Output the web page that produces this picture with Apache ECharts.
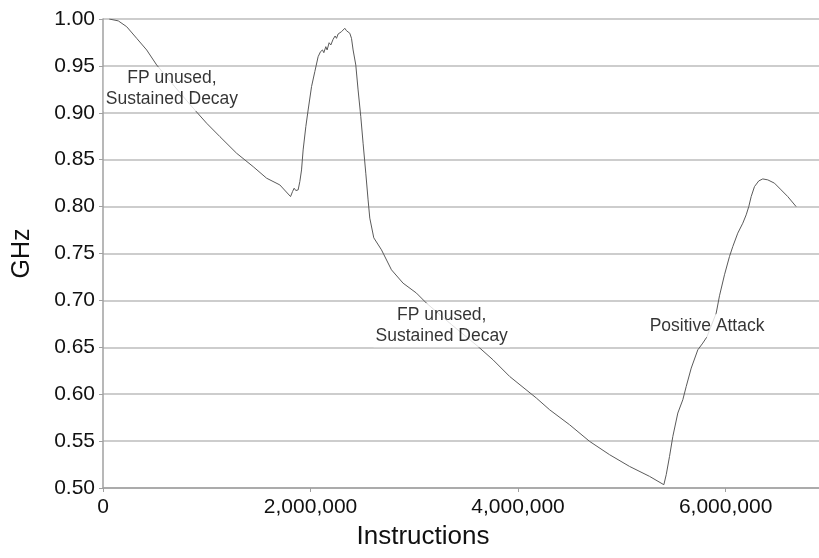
<!DOCTYPE html>
<html>
<head>
<meta charset="utf-8">
<script src="https://cdn.jsdelivr.net/npm/echarts@6/dist/echarts.min.js"></script>
<style>
  html, body { margin: 0; padding: 0; background: #fff; }
  #chart { width: 819px; height: 558px; }
</style>
</head>
<body>
<div id="chart"></div>
<script>
// Clock frequency (GHz) against retired instructions
const instructions = [
  60000, 147300, 228200, 324500, 420800, 517000, 693300, 869500, 998500, 1126600,
  1287400, 1447300, 1576300, 1704300, 1807400, 1826600, 1842000, 1858400, 1880500, 1896900,
  1913300, 1928700, 1954700, 1976800, 2009600, 2041300, 2073100, 2096200, 2115500, 2128000,
  2147300, 2159800, 2179100, 2195400, 2217600, 2236800, 2250300, 2265700, 2298400, 2330200,
  2346600, 2362000, 2378400, 2394700, 2410200, 2436100, 2458300, 2484300, 2506400, 2532400,
  2554600, 2571000, 2609500, 2683600, 2779900, 2891600, 3020600, 3116900, 3360500, 3613800,
  3758200, 3919000, 4176100, 4304200, 4496700, 4689300, 4881800, 5074400, 5267000, 5404700,
  5427800, 5459600, 5491400, 5539500, 5587700, 5620400, 5668600, 5732100, 5780300, 5818800,
  5909300, 5941100, 5989200, 6037400, 6069200, 6117300, 6165500, 6198200, 6223300, 6246400,
  6278200, 6319600, 6358100, 6406300, 6470700, 6535300, 6598800, 6679700
];
const ghz = [
  1.000, 0.998, 0.9918, 0.9794, 0.967, 0.951, 0.9276, 0.9049, 0.8889, 0.8746,
  0.8569, 0.8426, 0.8303, 0.8231, 0.8107, 0.816, 0.8196, 0.8171, 0.8178, 0.8267,
  0.8391, 0.8604, 0.8853, 0.903, 0.9279, 0.9439, 0.9598, 0.9652, 0.967, 0.9641,
  0.9705, 0.967, 0.9747, 0.9723, 0.9784, 0.9819, 0.9794, 0.984, 0.9865, 0.9901,
  0.9875, 0.9883, 0.9848, 0.9794, 0.967, 0.951, 0.9244, 0.8959, 0.8676, 0.8356,
  0.8072, 0.7877, 0.7667, 0.7539, 0.7326, 0.7184, 0.7078, 0.6971, 0.674, 0.6509,
  0.6367, 0.6189, 0.5959, 0.5834, 0.5674, 0.5497, 0.5355, 0.523, 0.5124, 0.5035,
  0.5142, 0.5337, 0.555, 0.5799, 0.5941, 0.6082, 0.6278, 0.6473, 0.6545, 0.6609,
  0.6864, 0.7049, 0.7273, 0.7468, 0.7574, 0.7717, 0.7823, 0.7912, 0.80, 0.8107,
  0.8213, 0.8274, 0.8295, 0.8285, 0.825, 0.8178, 0.8107, 0.80
];

// Phase annotations placed in data space
const noteText = ['FP unused,\nSustained Decay', 'FP unused,\nSustained Decay', 'Positive Attack'];
const noteX = [664400, 3264200, 5820800];
const noteY = [0.9254, 0.6735, 0.6729];

const xTickStep = 2000000;
const xMax = 6900000;
const yMin = 0.5, yMax = 1.0, yStep = 0.05;

const FONT = '"Liberation Sans", Arial, Helvetica, sans-serif';

const chart = echarts.init(document.getElementById('chart'), null, { renderer: 'canvas' });

chart.setOption({
  animation: false,
  backgroundColor: '#ffffff',
  grid: { left: 103, right: 0, top: 19, bottom: 70, containLabel: false, outerBoundsMode: 'none' },
  xAxis: {
    type: 'value',
    min: 0,
    max: xMax,
    interval: xTickStep,
    name: 'Instructions',
    nameLocation: 'middle',
    nameGap: 36,
    nameTextStyle: { fontFamily: FONT, fontSize: 26, color: '#111', padding: [0, 76, 0, 0] },
    axisLine: { show: true, lineStyle: { color: '#a0a0a0', width: 1.5 } },
    axisTick: { show: true, inside: false, length: 4, lineStyle: { color: '#a0a0a0' } },
    splitLine: { show: false },
    axisLabel: {
      fontFamily: FONT, fontSize: 21, color: '#111', margin: 9,
      formatter: v => (v % xTickStep === 0 ? v.toLocaleString('en-US') : '')
    }
  },
  yAxis: {
    type: 'value',
    min: yMin,
    max: yMax,
    interval: yStep,
    name: 'GHz',
    nameLocation: 'middle',
    nameRotate: 90,
    nameGap: 68,
    nameTextStyle: { fontFamily: FONT, fontSize: 25, color: '#111' },
    axisLine: { show: true, lineStyle: { color: '#a0a0a0', width: 1.5 } },
    axisTick: { show: true, inside: false, length: 4, lineStyle: { color: '#a0a0a0' } },
    splitLine: { show: true, lineStyle: { color: '#bdbdbd', width: 1.5 } },
    axisLabel: {
      fontFamily: FONT, fontSize: 21, color: '#111', margin: 8,
      formatter: v => v.toFixed(2)
    }
  },
  series: [
    {
      type: 'line',
      data: instructions.map((x, i) => [x, ghz[i]]),
      showSymbol: false,
      symbol: 'none',
      lineStyle: { color: '#5a5a5a', width: 1 },
      z: 2
    },
    {
      type: 'scatter',
      data: noteX.map((x, i) => ({ value: [x, noteY[i]], name: noteText[i] })),
      symbolSize: 0,
      z: 5,
      silent: true,
      label: {
        show: true,
        position: 'inside',
        formatter: p => p.name,
        fontFamily: FONT,
        fontSize: 17.5,
        lineHeight: 21,
        color: '#000',
        align: 'center',
        verticalAlign: 'middle',
        backgroundColor: '#ffffff',
        padding: [1, 2]
      }
    }
  ]
});
</script>
</body>
</html>
